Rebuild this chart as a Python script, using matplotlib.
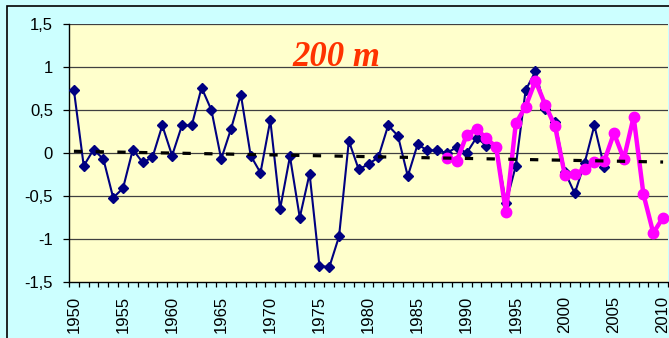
import matplotlib.pyplot as plt
from matplotlib.patches import Rectangle
from matplotlib.ticker import FuncFormatter, MultipleLocator

# Data
years_blue = list(range(1950, 2005))
values_blue = [0.73, -0.15, 0.04, -0.07, -0.52, -0.41, 0.04, -0.11, -0.05, 0.32,
               -0.03, 0.32, 0.32, 0.76, 0.50, -0.07, 0.28, 0.68, -0.03, -0.23,
               0.38, -0.65, -0.04, -0.75, -0.24, -1.31, -1.33, -0.97, 0.14, -0.19,
               -0.13, -0.05, 0.32, 0.20, -0.27, 0.10, 0.03, 0.03, 0.00, 0.07,
               0.00, 0.18, 0.085, 0.07, -0.585, -0.15, 0.73, 0.95, 0.51, 0.36,
               -0.22, -0.47, -0.12, 0.32, -0.16]

years_pink = list(range(1988, 2011))
values_pink = [-0.055, -0.09, 0.21, 0.28, 0.17, 0.07, -0.69, 0.345, 0.54, 0.84,
               0.56, 0.31, -0.26, -0.245, -0.19, -0.11, -0.095, 0.23, -0.07, 0.42,
               -0.48, -0.93, -0.75]

trend_years = [1950, 2010]
trend_values = [0.02, -0.105]

x_labels = list(range(1950, 2011, 5))

fig = plt.figure(figsize=(6.69, 3.38), dpi=100, facecolor="#CCFFFF")
ax = fig.add_axes([69 / 669, 56 / 338, 599 / 669, 258 / 338])
ax.set_facecolor("#FFFFCC")

# outer frame of the chart area
fig.patches.append(Rectangle((7 / 669, -0.1), 1.1, (338 - 6) / 338 + 0.1,
                             transform=fig.transFigure, fill=False,
                             edgecolor="black", linewidth=1.2, zorder=0))

# grid
for v in [-1.0, -0.5, 0.0, 0.5, 1.0, 1.5]:
    ax.axhline(v, color="#404040", linewidth=0.9, zorder=1)

ax.plot(years_blue, values_blue, color="#000080", linewidth=1.5,
        marker="D", markersize=5.5, zorder=3)
ax.plot(years_pink, values_pink, color="#FF00FF", linewidth=3.2,
        marker="o", markersize=7.5, zorder=4)
ax.plot(trend_years, trend_values, color="black", linewidth=2.3,
        dashes=(2.6, 4.2), zorder=5)

ax.set_xlim(1949.5, 2010.5)
ax.set_ylim(-1.5, 1.5)

ax.yaxis.set_major_locator(MultipleLocator(0.5))
ax.yaxis.set_major_formatter(FuncFormatter(
    lambda v, pos: ("%g" % v).replace(".", ",")))
ax.set_xticks(x_labels)
ax.set_xticklabels([str(y) for y in x_labels], rotation=90)
ax.set_xticks([y - 0.5 for y in range(1950, 2012)], minor=True)

ax.tick_params(axis="y", direction="out", length=4.5, width=0.9, pad=7,
               labelsize=12, labelfontfamily="Liberation Sans")
ax.tick_params(axis="x", which="major", length=0, pad=10,
               labelsize=12, labelfontfamily="Liberation Sans")
ax.tick_params(axis="x", which="minor", direction="out", length=3.5, width=0.9)

for side in ["top", "right"]:
    ax.spines[side].set_visible(False)
for side in ["left", "bottom"]:
    ax.spines[side].set_color("black")
    ax.spines[side].set_linewidth(1.0)

ax.text(0.447, 0.872, "200 m", transform=ax.transAxes, ha="center", va="center",
        fontsize=25, fontweight="bold", fontstyle="italic",
        family="Liberation Serif", color="#FF3300", zorder=6)

fig.savefig("out.png", dpi=100, facecolor=fig.get_facecolor())
